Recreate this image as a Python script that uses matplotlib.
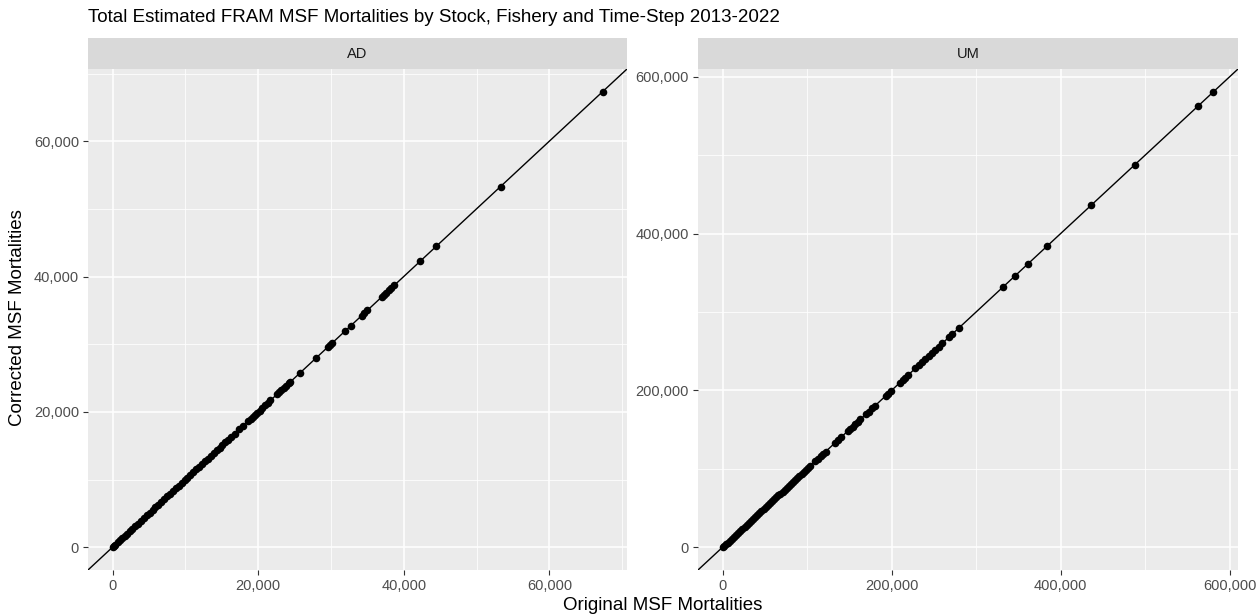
import numpy as np
import matplotlib
matplotlib.use('Agg')
import matplotlib.pyplot as plt
from matplotlib.ticker import StrMethodFormatter, MultipleLocator

plt.rcParams['font.family'] = ['Liberation Sans', 'DejaVu Sans']

title = 'Total Estimated FRAM MSF Mortalities by Stock, Fishery and Time-Step 2013-2022'
panels = ['AD', 'UM']

# AD stock: original vs corrected MSF mortalities
orig_ad = [0, 150, 400, 700, 1000, 1300, 1650, 2000, 2350, 2700, 3100, 3500, 3900,
           4300, 4700, 5100, 5500, 5900, 6300, 6700, 7100, 7500, 7900, 8300, 8700,
           9100, 9500, 9900, 10300, 10700, 11100, 11500, 11900, 12300, 12700, 13100,
           13500, 13900, 14300, 14700, 15100, 15500, 15900, 16300, 16800, 17400,
           17900, 18600, 19000, 19300, 19600, 19900, 20200, 20600, 21000, 21300,
           21700, 22600, 22900, 23200, 23500, 23800, 24200, 24400, 25700, 27900,
           29600, 29900, 30200, 32000, 32700, 34200, 34600, 35000, 37000, 37300,
           37600, 38000, 38300, 38700, 42300, 44500, 53300, 67300]
corr_ad = [0, 150, 400, 700, 1000, 1300, 1650, 2000, 2350, 2700, 3100, 3500, 3900,
           4300, 4700, 5100, 5500, 5900, 6300, 6700, 7100, 7500, 7900, 8300, 8700,
           9100, 9500, 9900, 10300, 10700, 11100, 11500, 11900, 12300, 12700, 13100,
           13500, 13900, 14300, 14700, 15100, 15500, 15900, 16300, 16800, 17400,
           17900, 18600, 19000, 19300, 19600, 19900, 20200, 20600, 21000, 21300,
           21700, 22600, 22900, 23200, 23500, 23800, 24200, 24400, 25700, 27900,
           29600, 29900, 30200, 32000, 32700, 34200, 34600, 35000, 37000, 37300,
           37600, 38000, 38300, 38700, 42300, 44500, 53300, 67300]

# UM stock
orig_um = [0, 1500, 3500, 6000, 8500, 11000, 13500, 16000, 18500, 21000, 23500,
           26000, 28500, 31000, 33500, 36000, 38500, 41000, 43500, 46000, 48500,
           51000, 53500, 56000, 58500, 61000, 63500, 66000, 68500, 71000, 73500,
           76000, 78500, 81000, 83500, 86000, 88500, 91000, 93500, 96000, 98500,
           101000, 104000, 110000, 113000, 116000, 119000, 122000, 133000, 137000,
           140000, 148000, 151000, 154000, 157000, 160000, 163000, 170000, 173000,
           177000, 180000, 193000, 196000, 199000, 210000, 213000, 216000, 220000,
           228000, 232000, 236000, 240000, 244000, 248000, 252000, 256000, 260000,
           268000, 272000, 280000, 332000, 346000, 361000, 384000, 436000, 488000,
           563000, 581000]
corr_um = [0, 1500, 3500, 6000, 8500, 11000, 13500, 16000, 18500, 21000, 23500,
           26000, 28500, 31000, 33500, 36000, 38500, 41000, 43500, 46000, 48500,
           51000, 53500, 56000, 58500, 61000, 63500, 66000, 68500, 71000, 73500,
           76000, 78500, 81000, 83500, 86000, 88500, 91000, 93500, 96000, 98500,
           101000, 104000, 110000, 113000, 116000, 119000, 122000, 133000, 137000,
           140000, 148000, 151000, 154000, 157000, 160000, 163000, 170000, 173000,
           177000, 180000, 193000, 196000, 199000, 210000, 213000, 216000, 220000,
           228000, 232000, 236000, 240000, 244000, 248000, 252000, 256000, 260000,
           268000, 272000, 280000, 332000, 346000, 361000, 384000, 436000, 488000,
           563000, 581000]

data = {'AD': (orig_ad, corr_ad, 20000), 'UM': (orig_um, corr_um, 200000)}

W, H = 1259, 615
fig = plt.figure(figsize=(W / 100, H / 100), dpi=100)

# pixel boxes (left, right) for each panel
boxes = {'AD': (88, 627), 'UM': (698, 1238)}
top_px, bot_px, strip_top = 69, 570, 38

for name in panels:
    x0, x1 = boxes[name]
    ax = fig.add_axes([x0 / W, 1 - bot_px / H, (x1 - x0) / W, (bot_px - top_px) / H])
    sx = fig.add_axes([x0 / W, 1 - top_px / H, (x1 - x0) / W, (top_px - strip_top) / H])
    sx.set_facecolor('#D9D9D9')
    sx.set_xticks([]); sx.set_yticks([])
    for s in sx.spines.values():
        s.set_visible(False)
    sx.text(0.5, 0.5, name, ha='center', va='center', fontsize=10.5, color='#1A1A1A',
            transform=sx.transAxes)

    orig, corr, step = data[name]
    lo = min(min(orig), min(corr))
    hi = max(max(orig), max(corr))
    pad = (hi - lo) * 0.05
    lims = (lo - pad, hi + pad)

    ax.set_facecolor('#EBEBEB')
    for s in ax.spines.values():
        s.set_visible(False)
    ax.xaxis.set_major_locator(MultipleLocator(step))
    ax.yaxis.set_major_locator(MultipleLocator(step))
    ax.xaxis.set_minor_locator(MultipleLocator(step / 2))
    ax.yaxis.set_minor_locator(MultipleLocator(step / 2))
    ax.grid(which='major', color='white', linewidth=1.1)
    ax.grid(which='minor', color='white', linewidth=0.55)
    ax.set_axisbelow(True)
    fmt = StrMethodFormatter('{x:,.0f}')
    ax.xaxis.set_major_formatter(fmt)
    ax.yaxis.set_major_formatter(fmt)
    ax.tick_params(which='major', length=3.5, width=0.8, color='#333333',
                   labelcolor='#4D4D4D', labelsize=10.5, pad=3)
    ax.tick_params(which='minor', length=0)

    ax.axline((0, 0), slope=1, color='black', linewidth=1.0, zorder=2)
    ax.scatter(orig, corr, s=30, color='black', linewidths=0, zorder=3)
    ax.set_xlim(lims)
    ax.set_ylim(lims)

fig.text(88 / W, 1 - 18 / H, title, ha='left', va='center', fontsize=13.5, color='black')
fig.text(663 / W, 1 - 605 / H, 'Original MSF Mortalities', ha='center', va='center',
         fontsize=13.5)
fig.text(18 / W, 1 - 318 / H, 'Corrected MSF Mortalities', ha='center', va='center',
         rotation=90, fontsize=13.5)

fig.savefig('out.png', dpi=100)
